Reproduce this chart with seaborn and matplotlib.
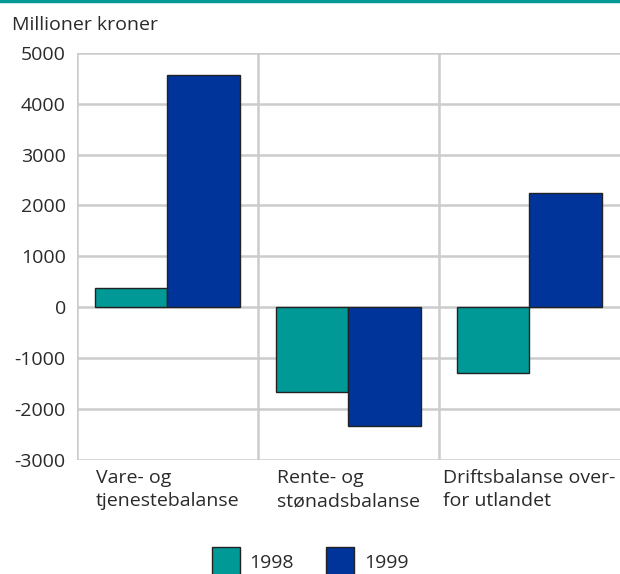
import matplotlib
matplotlib.use("Agg")
import matplotlib.pyplot as plt
import seaborn as sns
import pandas as pd

# Data
categories = ["Vare- og\ntjenestebalanse", "Rente- og\nstønadsbalanse", "Driftsbalanse over-\nfor utlandet"]
years = ["1998", "1999"]
values_1998 = [370, -1670, -1300]
values_1999 = [4570, -2330, 2240]
yticks = [-3000, -2000, -1000, 0, 1000, 2000, 3000, 4000, 5000]

colors = {"1998": "#009996", "1999": "#00349A"}
grid_color = "#cccccc"
text_color = "#2a2a2a"
fs = 14

df = pd.DataFrame({
    "kategori": categories * 2,
    "aar": [years[0]] * 3 + [years[1]] * 3,
    "verdi": values_1998 + values_1999,
})

sns.set_theme(style="white")
plt.rcParams["font.family"] = ["Open Sans", "DejaVu Sans"]

fig = plt.figure(figsize=(6.2, 5.74), dpi=100)
ax = fig.add_axes([0.124, 0.199, 0.876, 0.709])

sns.barplot(data=df, x="kategori", y="verdi", hue="aar", palette=colors,
            saturation=1, edgecolor="#222222", linewidth=1.0, width=0.8,
            ax=ax, legend=False, zorder=3)

ax.set_ylim(-3000, 5000)
ax.set_xlim(-0.5, 2.5)
ax.set_yticks(yticks)
ax.set_yticklabels([str(v) for v in yticks], fontsize=fs, color=text_color)
ax.set_xlabel("")
ax.set_ylabel("")

# horizontal grid and vertical separators between groups
for v in yticks:
    ax.axhline(v, color=grid_color, lw=1.8, zorder=1)
for b in [-0.5, 0.5, 1.5]:
    ax.axvline(b, color=grid_color, lw=1.8, zorder=1)
for s in ax.spines.values():
    s.set_visible(False)
ax.tick_params(axis="y", length=0, pad=8)

# category labels: block centred under the group, lines left-aligned
ax.set_xticks(range(len(categories)))
ax.set_xticklabels(categories, fontsize=fs, color=text_color, ha="center",
                   multialignment="left", linespacing=1.35)
ax.tick_params(axis="x", length=0, pad=7)

fig.text(12 / 620, 1 - 25 / 574, "Millioner kroner", fontsize=fs,
         color=text_color, va="center", ha="left")

# teal rule along the top
fig.add_artist(plt.Line2D([0, 1], [0.998, 0.998], color="#009996", lw=2.5,
                          transform=fig.transFigure))

handles = [plt.Rectangle((0, 0), 1, 1, facecolor=colors[y], edgecolor="#222222",
                         lw=1.0) for y in years]
fig.legend(handles, years, loc="lower center", bbox_to_anchor=(0.5, -0.035),
           ncol=2, frameon=False, fontsize=fs, handlelength=1.45,
           handleheight=2.0, columnspacing=1.65, handletextpad=0.5,
           labelcolor=text_color)

fig.savefig("out.png", dpi=100)
